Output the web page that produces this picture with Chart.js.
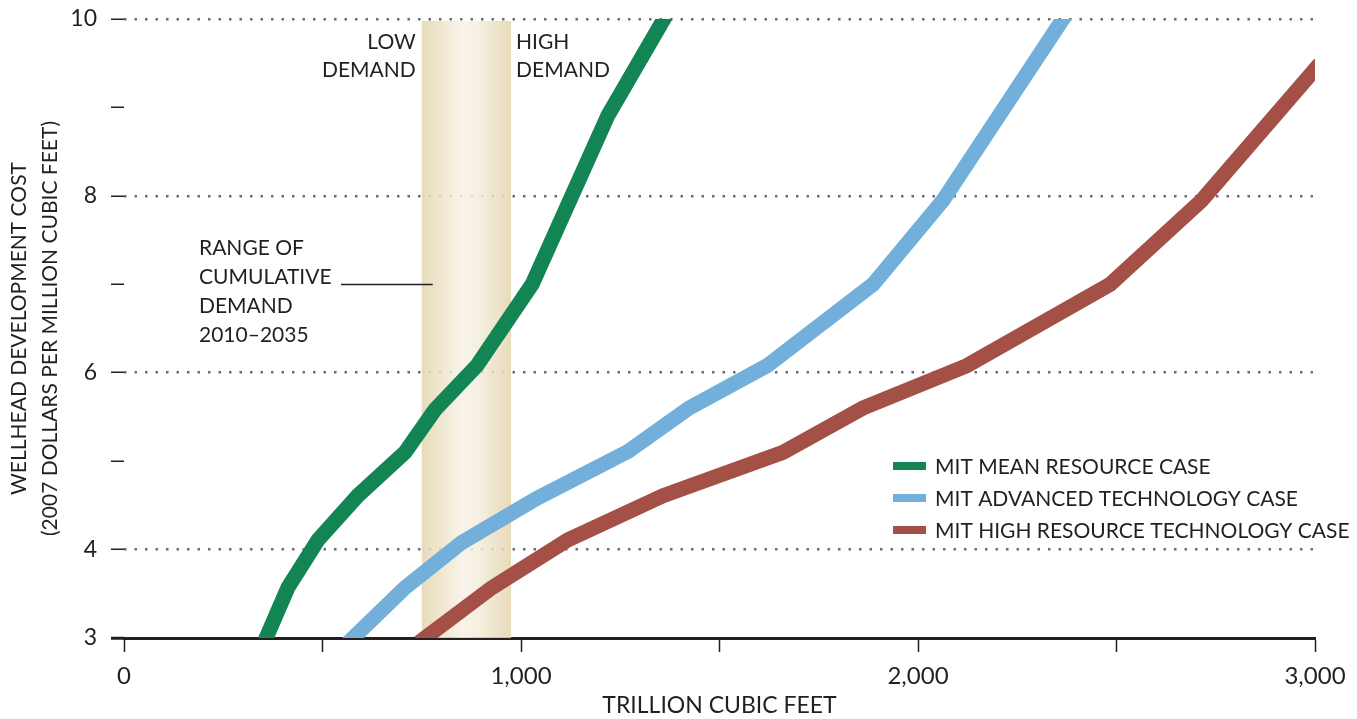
<!DOCTYPE html>
<html>
<head>
<meta charset="utf-8">
<script src="https://cdn.jsdelivr.net/npm/chart.js@4.4.0/dist/chart.umd.min.js"></script>
<style>
  html, body { margin: 0; padding: 0; background: #fff; }
  #wrap { width: 1357px; height: 719px; position: relative; }
</style>
</head>
<body>
<div id="wrap"><canvas id="supply-curve-chart"></canvas></div>
<script>
const seriesLabels = ['MIT MEAN RESOURCE CASE', 'MIT ADVANCED TECHNOLOGY CASE', 'MIT HIGH RESOURCE TECHNOLOGY CASE'];
const seriesColors = ['#138554', '#72b0db', '#a45046'];

// trillion cubic feet (x) against wellhead cost, $/Mcf (y)
const meanVolume = [358, 413, 489, 589, 708, 783, 889, 1028, 1219, 1360];
const meanCost   = [3.0, 3.57, 4.11, 4.61, 5.10, 5.58, 6.08, 7.0, 8.91, 10.0];
const advVolume  = [577, 708, 851, 1040, 1270, 1423, 1620, 1887, 2063, 2365];
const advCost    = [3.0, 3.57, 4.08, 4.58, 5.11, 5.6, 6.08, 7.0, 7.95, 10.0];
const highVolume = [758, 927, 1118, 1358, 1660, 1861, 2123, 2484, 2715, 3000];
const highCost   = [3.0, 3.57, 4.11, 4.61, 5.10, 5.6, 6.08, 7.0, 7.95, 9.43];

const demandRange = [750, 975];
const demandNote = ['RANGE OF', 'CUMULATIVE', 'DEMAND', '2010–2035'];

const xLabeledTicks = [0, 1000, 2000, 3000];
const yLabeledTicks = [3, 4, 6, 8, 10];
const xTitle = 'TRILLION CUBIC FEET';
const yTitle = ['WELLHEAD DEVELOPMENT COST', '(2007 DOLLARS PER MILLION CUBIC FEET)'];

const TEXT = '#231f20';
const FONT = 'Lato, "Open Sans", sans-serif';
Chart.defaults.font.family = FONT;

const toPoints = (xs, ys) => xs.map((v, i) => ({ x: v, y: ys[i] }));
const volumes = [meanVolume, advVolume, highVolume];
const costs = [meanCost, advCost, highCost];

// demand band, annotations and legend
const overlay = {
    id: 'overlay',
    beforeDatasetsDraw(chart) {
        const { ctx, chartArea: a, scales: { x } } = chart;
        const x1 = x.getPixelForValue(demandRange[0]);
        const x2 = x.getPixelForValue(demandRange[1]);
        const g = ctx.createLinearGradient(x1, 0, x2, 0);
        g.addColorStop(0, '#e4d5ae');
        g.addColorStop(0.45, '#f7f2e6');
        g.addColorStop(0.62, '#f4eedc');
        g.addColorStop(1, '#e4d5ae');
        ctx.save();
        ctx.globalAlpha = 0.85;
        ctx.fillStyle = g;
        ctx.fillRect(x1, a.top + 2, x2 - x1, a.bottom - a.top - 2);
        ctx.restore();
    },
    afterDatasetsDraw(chart) {
        const { ctx, chartArea: a, scales: { x } } = chart;
        const x1 = x.getPixelForValue(demandRange[0]);
        const x2 = x.getPixelForValue(demandRange[1]);
        ctx.save();
        ctx.fillStyle = TEXT;
        ctx.font = '21px ' + FONT;
        ctx.textBaseline = 'alphabetic';
        ctx.textAlign = 'right';
        ctx.fillText('LOW', x1 - 6, a.top + 30);
        ctx.fillText('DEMAND', x1 - 6, a.top + 58);
        ctx.textAlign = 'left';
        ctx.fillText('HIGH', x2 + 5, a.top + 30);
        ctx.fillText('DEMAND', x2 + 5, a.top + 58);
        demandNote.forEach((t, i) => ctx.fillText(t, 199, 255 + i * 29));

        ctx.strokeStyle = TEXT;
        ctx.lineWidth = 1.3;
        ctx.beginPath();
        ctx.moveTo(341, 284.5);
        ctx.lineTo(x1 + 11, 284.5);
        ctx.stroke();

        chart.data.datasets.forEach((ds, i) => {
            const cy = 466 + i * 32;
            ctx.fillStyle = ds.borderColor;
            ctx.fillRect(893, cy - 4, 33, 8);
            ctx.fillStyle = TEXT;
            ctx.fillText(ds.label, 935, cy + 8);
        });
        ctx.restore();
    }
};

new Chart(document.getElementById('supply-curve-chart'), {
    type: 'line',
    data: {
        datasets: seriesLabels.map((label, i) => ({
            label: label,
            data: toPoints(volumes[i], costs[i]),
            borderColor: seriesColors[i],
            backgroundColor: seriesColors[i],
            borderWidth: 15,
            borderCapStyle: 'square',
            borderJoinStyle: 'miter',
            pointRadius: 0,
            tension: 0,
            fill: false,
            clip: 0
        }))
    },
    options: {
        responsive: true,
        maintainAspectRatio: false,
        animation: false,
        devicePixelRatio: 1,
        layout: { padding: { top: 19, right: 42, bottom: 0, left: 0 } },
        plugins: {
            legend: { display: false },
            tooltip: { enabled: false }
        },
        scales: {
            x: {
                type: 'linear',
                min: 0,
                max: 3000,
                afterFit(scale) {
                    scale.height = 81;
                    scale.paddingLeft = 0;
                    scale.paddingRight = 0;
                },
                ticks: {
                    stepSize: 500,
                    autoSkip: false,
                    maxRotation: 0,
                    padding: 10,
                    color: TEXT,
                    font: { size: 24 },
                    callback: v => xLabeledTicks.includes(v) ? v.toLocaleString('en-US') : ''
                },
                grid: { drawOnChartArea: false, tickLength: 14, tickColor: TEXT, tickWidth: 1.5, color: TEXT },
                border: { display: true, color: TEXT, width: 3 },
                title: { display: true, text: xTitle, color: TEXT, font: { size: 23 }, padding: { top: 0, bottom: 0 } }
            },
            y: {
                type: 'linear',
                min: 3,
                max: 10,
                afterFit(scale) {
                    scale.width = 124;
                    scale.paddingTop = 0;
                    scale.paddingBottom = 0;
                },
                ticks: {
                    stepSize: 1,
                    padding: 14,
                    color: TEXT,
                    font: { size: 23 },
                    callback: v => yLabeledTicks.includes(v) ? String(v) : ''
                },
                grid: {
                    color: c => (c.tick && c.tick.value % 2 === 0) ? '#6d6e71' : 'rgba(0,0,0,0)',
                    lineWidth: 2.5,
                    tickLength: 13,
                    tickColor: TEXT,
                    tickWidth: c => (c.tick && c.tick.value === 3) ? 3 : 1.5,
                    tickBorderDash: []
                },
                border: { display: false, dash: [2.5, 8] },
                title: { display: true, text: yTitle, color: TEXT, font: { size: 21, lineHeight: 1.48 }, padding: { top: 4, bottom: 0 } }
            }
        }
    },
    plugins: [overlay]
});
</script>
</body>
</html>
